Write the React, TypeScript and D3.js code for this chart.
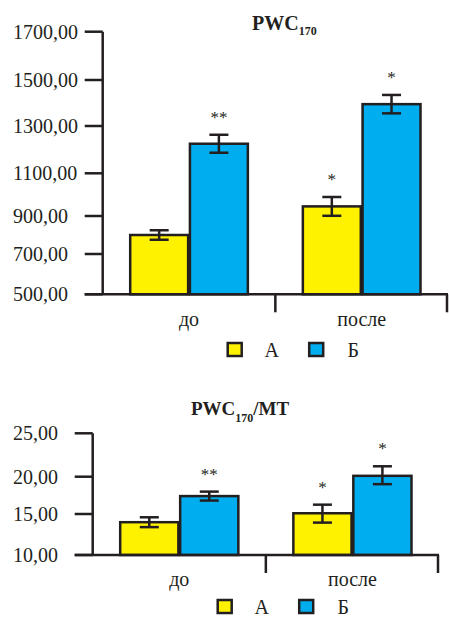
import React from "react";
import * as d3 from "d3";

const categories = ["до", "после"];
const series = ["А", "Б"];

const pwcTicks = [500, 700, 900, 1100, 1300, 1500, 1700];
const pwcA = [800, 945];
const pwcB = [1225, 1395];
const pwcErrA = [25, 44];
const pwcErrB = [38, 40];
const pwcMarksA = ["", "*"];
const pwcMarksB = ["**", "*"];

const relTicks = [10, 15, 20, 25];
const relA = [14.0, 15.1];
const relB = [17.4, 20.1];
const relErrA = [0.6, 1.15];
const relErrB = [0.6, 1.1];
const relMarksA = ["", "*"];
const relMarksB = ["**", "*"];

const COLORS = ["#fff200", "#00aeef"];
const INK = "#231f20";
const FONT = "'Liberation Serif', 'DejaVu Serif', serif";

type PanelProps = {
  ticks: number[];
  tickPx: number[];
  axisX: number;
  rightX: number;
  values: number[][];
  errs: number[][];
  marks: string[][];
  labelY: number;
  legendY: number;
  title: React.ReactNode;
};

function Panel(p: PanelProps) {
  const y = d3.scaleLinear().domain(p.ticks).range(p.tickPx);
  const baseY = y(p.ticks[0]);
  const x0 = d3.scaleBand<string>().domain(categories).range([p.axisX, p.rightX]).padding(0);
  const pad = 27.5;
  const x1 = d3
    .scaleBand<string>()
    .domain(series)
    .range([pad, x0.bandwidth() - pad])
    .paddingInner(0.03);
  const fmt = (v: number) => d3.format(".2f")(v).replace(".", ",");
  const sw = 2.5;
  return (
    <g>
      {p.title}
      {categories.map((c, ci) =>
        series.map((s, si) => {
          const v = p.values[si][ci];
          const e = p.errs[si][ci];
          const bx = (x0(c) as number) + (x1(s) as number);
          const bw = x1.bandwidth();
          const cx = bx + bw / 2;
          const top = y(v + e);
          const bot = y(v - e);
          const m = p.marks[si][ci];
          return (
            <g key={c + s}>
              <rect x={bx} y={y(v)} width={bw} height={baseY - y(v)} fill={COLORS[si]} stroke={INK} strokeWidth={sw} />
              <line x1={cx} x2={cx} y1={top} y2={bot} stroke={INK} strokeWidth={sw} />
              <line x1={cx - 9.5} x2={cx + 9.5} y1={top} y2={top} stroke={INK} strokeWidth={sw} />
              <line x1={cx - 9.5} x2={cx + 9.5} y1={bot} y2={bot} stroke={INK} strokeWidth={sw} />
              {m && (
                <text x={cx} y={top - 12} textAnchor="middle" fontFamily={FONT} fontSize={17} fill={INK}>
                  {m}
                </text>
              )}
            </g>
          );
        })
      )}
      <line x1={p.axisX} x2={p.axisX} y1={y(p.ticks[p.ticks.length - 1])} y2={baseY} stroke={INK} strokeWidth={sw} />
      {p.ticks.map((t) => (
        <g key={t}>
          <line x1={p.axisX - 18} x2={p.axisX} y1={y(t)} y2={y(t)} stroke={INK} strokeWidth={sw} />
          <text x={13} y={y(t)} dy="0.34em" fontFamily={FONT} fontSize={20} fill={INK}>
            {fmt(t)}
          </text>
        </g>
      ))}
      <line x1={p.axisX - 18} x2={p.rightX} y1={baseY} y2={baseY} stroke={INK} strokeWidth={sw} />
      {[x0(categories[1]) as number, p.rightX - 1].map((tx, i) => (
        <line key={i} x1={tx} x2={tx} y1={baseY} y2={baseY + 18} stroke={INK} strokeWidth={sw} />
      ))}
      {categories.map((c) => (
        <text key={c} x={(x0(c) as number) + x0.bandwidth() / 2} y={p.labelY} textAnchor="middle" fontFamily={FONT} fontSize={20} fill={INK}>
          {c}
        </text>
      ))}
      {series.map((s, si) => {
        const lx = p.axisX + 125 + si * 81.5;
        return (
          <g key={s}>
            <rect x={lx} y={p.legendY - 14} width={14} height={13} fill={COLORS[si]} stroke={INK} strokeWidth={sw} />
            <text x={lx + 44} y={p.legendY} textAnchor="middle" fontFamily={FONT} fontSize={20} fill={INK}>
              {s}
            </text>
          </g>
        );
      })}
    </g>
  );
}

export default function App() {
  return (
    <svg width={449} height={619} style={{ position: "absolute", left: 0, top: 0, background: "#fff" }}>
      <rect x={0} y={0} width={449} height={619} fill="#fff" />
      <Panel
        ticks={pwcTicks}
        tickPx={[294.3, 254, 216, 173.3, 126, 80, 31.7]}
        axisX={102.7}
        rightX={448}
        values={[pwcA, pwcB]}
        errs={[pwcErrA, pwcErrB]}
        marks={[pwcMarksA, pwcMarksB]}
        labelY={326}
        legendY={357}
        title={
          <text x={252} y={30} fontFamily={FONT} fontSize={20} fontWeight="bold" fill={INK}>
            PWC
            <tspan fontSize={12} dy={5}>170</tspan>
          </text>
        }
      />
      <Panel
        ticks={relTicks}
        tickPx={[555, 514, 476.7, 433.3]}
        axisX={92.7}
        rightX={439}
        values={[relA, relB]}
        errs={[relErrA, relErrB]}
        marks={[relMarksA, relMarksB]}
        labelY={586}
        legendY={614}
        title={
          <text x={191} y={415} fontFamily={FONT} fontSize={19} fontWeight="bold" fill={INK}>
            PWC
            <tspan fontSize={12} dy={7}>170</tspan>
            <tspan dy={-7}>/MT</tspan>
          </text>
        }
      />
    </svg>
  );
}
